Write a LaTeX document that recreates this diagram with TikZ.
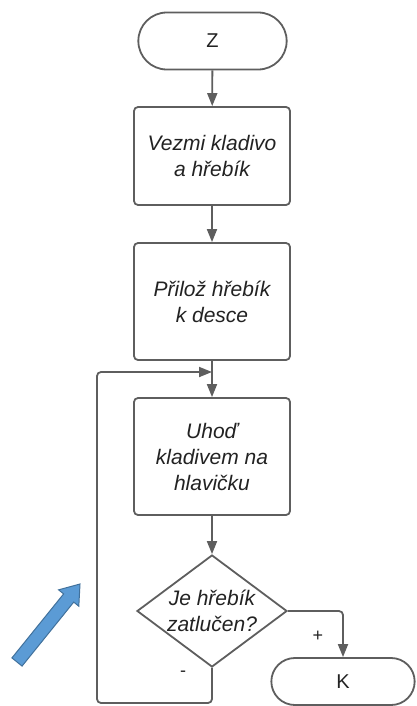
\documentclass[tikz,border=0pt]{standalone}
\usepackage{fontspec}
\setmainfont{Liberation Sans}
\usetikzlibrary{shapes.misc,shapes.geometric,arrows.meta,calc}
\definecolor{linegray}{HTML}{5E5E5E}
\definecolor{txtc}{HTML}{222222}
\definecolor{bluefill}{HTML}{5B9BD5}
\definecolor{blueedge}{HTML}{41719C}
\begin{document}
\begin{tikzpicture}[x=1pt,y=-1pt,
  term/.style={rounded rectangle, draw=linegray, line width=1.8pt, minimum width=155pt, minimum height=57pt, text=txtc, font=\fontsize{20}{24}\selectfont},
  stepbox/.style={rectangle, rounded corners=4pt, draw=linegray, line width=1.8pt, minimum width=156pt, text=txtc, align=center, font=\fontsize{21}{26}\selectfont\itshape},
  dia/.style={diamond, draw=linegray, line width=1.8pt, minimum width=150pt, minimum height=112pt, inner sep=0pt},
  txt/.style={text=txtc, align=center, font=\fontsize{21}{26}\selectfont\itshape},
  lbl/.style={text=txtc, font=\fontsize{18}{20}\selectfont},
  conn/.style={draw=linegray, line width=1.8pt, -{Triangle[length=13pt,width=10pt]}, rounded corners=4pt}
]
\useasboundingbox (0,0) rectangle (416,706);
\node[term] (z) at (212.5,41) {Z};
\node[stepbox, minimum height=98pt] (b1) at (212,156) {Vezmi kladivo\\a hřebík};
\node[stepbox, minimum height=117pt] (b2) at (212,301.5) {Přilož hřebík\\k desce};
\node[stepbox, minimum height=117pt] (b3) at (212,456.5) {Uhoď\\kladivem na\\hlavičku};
\node[dia] (d) at (212,611) {};
\node[txt] (dt) at (d) {Je hřebík\\zatlučen?};
\node[term, minimum width=150pt, minimum height=47pt] (k) at (343,681.5) {K};
\coordinate (j) at (212,372);
\coordinate (bl) at (97,703);
\draw[conn] (z) -- (b1);
\draw[conn] (b1) -- (b2);
\draw[conn] (b2) -- (b3);
\draw[conn] (b3) -- (d);
\draw[conn] (d.east) -| (k.north);
\draw[conn] (d.south) |- (bl) |- (j);
\node[lbl] (plus) at (318,636) {+};
\node[lbl] (minus) at (183,674) {-};
% blue block arrow
\coordinate (T) at (17,662);
\coordinate (P) at (80,584);
\coordinate (B) at ($(P)!18pt!(T)$);
\fill[bluefill, draw=blueedge, line width=1pt, line join=miter]
  ($(T)!6.5pt!90:(P)$) -- ($(B)!6.5pt!90:(P)$) -- ($(B)!13pt!90:(P)$) -- (P)
  -- ($(B)!13pt!-90:(P)$) -- ($(B)!6.5pt!-90:(P)$) -- ($(T)!6.5pt!-90:(P)$) -- cycle;
\end{tikzpicture}
\end{document}
